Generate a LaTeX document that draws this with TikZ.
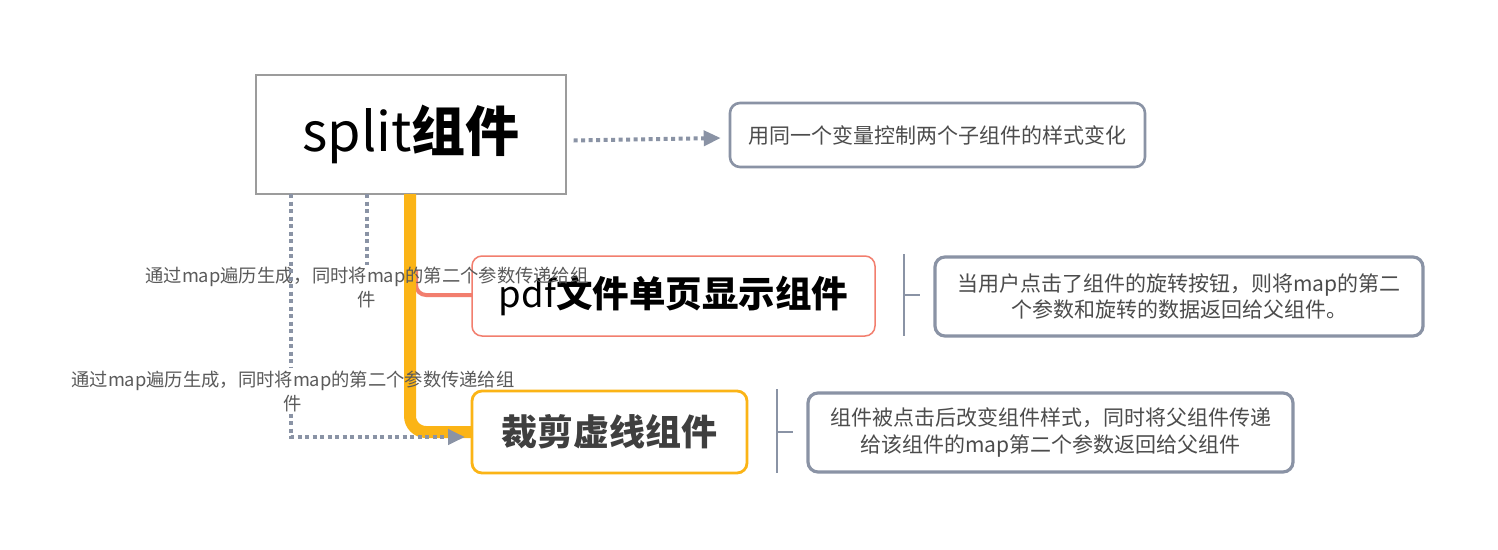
\documentclass[tikz,border=0pt]{standalone}
\usepackage{fontspec}
\newfontfamily\cjk{Noto Sans CJK SC}
\usetikzlibrary{arrows.meta}
\definecolor{edgegray}{HTML}{8A93A5}
\definecolor{splitgray}{HTML}{9C9C9C}
\definecolor{amber}{HTML}{FBB416}
\definecolor{salmon}{HTML}{F27E6E}
\definecolor{txtdark}{HTML}{3F3F3F}
\definecolor{txtnote}{HTML}{4C4C4C}
\definecolor{txtgray}{HTML}{5A5A5A}
\tikzset{
  notebox/.style={draw=edgegray, line width=3.2pt, rounded corners=10pt, fill=white,
     align=center, text=txtnote, font=\cjk\fontsize{21}{26.5}\selectfont, inner sep=0pt},
  dotline/.style={draw=edgegray, line width=4pt, dash pattern=on 4pt off 3.5pt},
  dotarrow/.style={dotline, -{Triangle[length=17pt,width=15pt]}},
  edgelabel/.style={align=center, text=txtgray, font=\cjk\fontsize{18.3}{24}\selectfont, inner sep=2pt},
  bracket/.style={draw=edgegray, line width=2pt},
}
\begin{document}
\begin{tikzpicture}[x=1pt,y=-1pt]
\useasboundingbox[fill=white] (0,0) rectangle (1498,549);

% main nodes
\node[draw=splitgray, line width=1.3pt, fill=white, minimum width=310, minimum height=119, inner sep=0pt,
      font=\cjk\fontsize{54}{60}\selectfont, text=black] (split) at (411,134.5) {split\bfseries 组件};
\node[notebox, line width=2.6pt, minimum width=415, minimum height=64] (note1) at (937.5,135)
   {用同一个变量控制两个子组件的样式变化};

% coordinates for connector ends
\coordinate (s1) at (291,194);
\coordinate (s2) at (367,194);
\coordinate (s3) at (410,194);
\coordinate (t1) at (465,437);

% branches
\draw[salmon, line width=4pt, rounded corners=10pt] (416,270) |- (474,295) coordinate (pdfin);
\draw[amber, line width=12pt, rounded corners=16pt] (s3) |- (474,432) coordinate (cutin);

\node[draw=salmon, line width=1.5pt, rounded corners=10pt, fill=white, minimum width=403, minimum height=80,
      inner sep=0pt, font=\cjk\fontsize{36.5}{44}\selectfont, text=black] (pdf) at (673.5,296)
   {pdf\bfseries 文件单页显示组件};
\node[draw=amber, line width=2.8pt, rounded corners=10pt, fill=white, minimum width=275, minimum height=82,
      inner sep=0pt, font=\cjk\bfseries\fontsize{36}{42}\selectfont, text=txtdark] (cut) at (609.5,432)
   {裁剪虚线组件};

\node[notebox, minimum width=488, minimum height=79] (note2) at (1179,296.5)
   {当用户点击了组件的旋转按钮，则将map的第二\\个参数和旋转的数据返回给父组件。};
\node[notebox, font=\cjk\fontsize{21}{27}\selectfont, minimum width=485, minimum height=79] (note3) at (1050.5,432.5)
   {组件被点击后改变组件样式，同时将父组件传递\\给该组件的map第二个参数返回给父组件};

% edge labels
\node[edgelabel] (lab2) at (367,287.5) {通过map遍历生成，同时将map的第二个参数传递给组\\件};
\node[edgelabel] (lab1) at (293,391) {通过map遍历生成，同时将map的第二个参数传递给组\\件};

% dotted connectors
\draw[dotarrow] ([xshift=7pt,yshift=-6pt]split.east) -- ([xshift=-8pt,yshift=-3pt]note1.west);
\draw[dotline] (s2) -- (lab2.north -| s2);
\draw[dotline] (s1) -- (lab1.north -| s1);
\draw[dotarrow] (lab1.south -| s1) |- (t1);

% brackets
\coordinate (b1top) at (904,254);
\coordinate (b1bot) at (904,336);
\draw[bracket] (b1top) -- (b1bot);
\draw[bracket] (904,295) -- (920,295);
\coordinate (b2top) at (777,389);
\coordinate (b2bot) at (777,473);
\draw[bracket] (b2top) -- (b2bot);
\draw[bracket] (777,432) -- (793,432);
\end{tikzpicture}
\end{document}
